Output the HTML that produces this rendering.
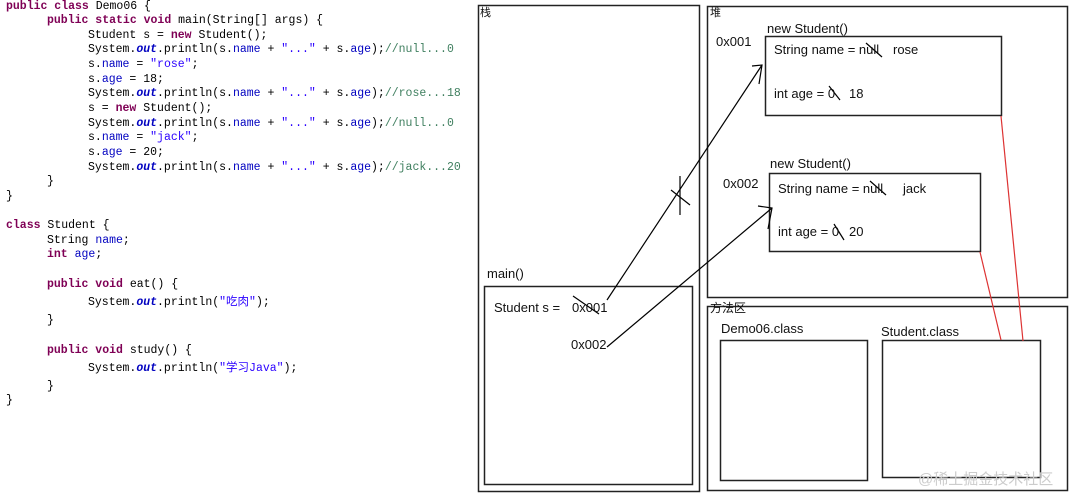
<!DOCTYPE html>
<html><head><meta charset="utf-8"><style>
body{margin:0;width:1081px;height:493px;background:#fff;overflow:hidden;position:relative;font-family:"Liberation Sans","Noto Sans CJK SC",sans-serif}
.c{position:absolute;font-family:"Liberation Mono","Noto Sans CJK SC",monospace;font-size:11.5px;white-space:pre;color:#000;line-height:14px}
.k{color:#7f0055;font-weight:bold}.f{color:#0000c0}.s{color:#2a00ff}.m{color:#3f7f5f}.o{color:#0000c0;font-weight:bold;font-style:italic}
svg{position:absolute;left:0;top:0}
</style></head><body>
<div class="c" style="left:6px;top:0px"><span class="k">public class</span> Demo06 {</div>
<div class="c" style="left:47px;top:14px"><span class="k">public static void</span> main(String[] args) {</div>
<div class="c" style="left:88px;top:29px">Student s = <span class="k">new</span> Student();</div>
<div class="c" style="left:88px;top:43px">System.<span class="o">out</span>.println(s.<span class="f">name</span> + <span class="s">"..."</span> + s.<span class="f">age</span>);<span class="m">//null...0</span></div>
<div class="c" style="left:88px;top:58px">s.<span class="f">name</span> = <span class="s">"rose"</span>;</div>
<div class="c" style="left:88px;top:73px">s.<span class="f">age</span> = 18;</div>
<div class="c" style="left:88px;top:87px">System.<span class="o">out</span>.println(s.<span class="f">name</span> + <span class="s">"..."</span> + s.<span class="f">age</span>);<span class="m">//rose...18</span></div>
<div class="c" style="left:88px;top:102px">s = <span class="k">new</span> Student();</div>
<div class="c" style="left:88px;top:117px">System.<span class="o">out</span>.println(s.<span class="f">name</span> + <span class="s">"..."</span> + s.<span class="f">age</span>);<span class="m">//null...0</span></div>
<div class="c" style="left:88px;top:131px">s.<span class="f">name</span> = <span class="s">"jack"</span>;</div>
<div class="c" style="left:88px;top:146px">s.<span class="f">age</span> = 20;</div>
<div class="c" style="left:88px;top:161px">System.<span class="o">out</span>.println(s.<span class="f">name</span> + <span class="s">"..."</span> + s.<span class="f">age</span>);<span class="m">//jack...20</span></div>
<div class="c" style="left:47px;top:175px">}</div>
<div class="c" style="left:6px;top:190px">}</div>
<div class="c" style="left:6px;top:219px"><span class="k">class</span> Student {</div>
<div class="c" style="left:47px;top:234px">String <span class="f">name</span>;</div>
<div class="c" style="left:47px;top:248px"><span class="k">int</span> <span class="f">age</span>;</div>
<div class="c" style="left:47px;top:278px"><span class="k">public void</span> eat() {</div>
<div class="c" style="left:88px;top:296px">System.<span class="o">out</span>.println(<span class="s">"吃肉"</span>);</div>
<div class="c" style="left:47px;top:314px">}</div>
<div class="c" style="left:47px;top:344px"><span class="k">public void</span> study() {</div>
<div class="c" style="left:88px;top:362px">System.<span class="o">out</span>.println(<span class="s">"学习Java"</span>);</div>
<div class="c" style="left:47px;top:380px">}</div>
<div class="c" style="left:6px;top:394px">}</div>
<svg width="1081" height="493" font-family="Liberation Sans, Noto Sans CJK SC, sans-serif" font-size="13">
<g fill="none" stroke="#222" stroke-width="1.5">
<rect x="478.5" y="5.5" width="221" height="486"/>
<rect x="707.5" y="6.5" width="360" height="291"/>
<rect x="707.5" y="306.5" width="360" height="184"/>
<rect x="484.5" y="286.5" width="208" height="198"/>
<rect x="765.5" y="36.5" width="236" height="79"/>
<rect x="769.5" y="173.5" width="211" height="78"/>
<rect x="720.5" y="340.5" width="147" height="140"/>
<rect x="882.5" y="340.5" width="158" height="137"/>
</g>
<g stroke="#000" stroke-width="1.2" fill="none">
<line x1="607" y1="300" x2="762" y2="65"/>
<line x1="607" y1="347" x2="772" y2="208"/>
<polyline points="752,66 762,65 759,84"/>
<polyline points="758,206 772,208 768,229"/>
<line x1="680" y1="176" x2="680" y2="215"/>
<line x1="671" y1="190" x2="690" y2="205"/>
<line x1="573" y1="296" x2="599" y2="314"/>
<line x1="866" y1="43" x2="882" y2="57"/>
<line x1="829" y1="86" x2="840" y2="100"/>
<line x1="870" y1="181" x2="886" y2="195"/>
<line x1="834" y1="224" x2="844" y2="240"/>
</g>
<g stroke="#d33" stroke-width="1.2">
<line x1="1001" y1="116" x2="1023" y2="341"/>
<line x1="980" y1="252" x2="1001" y2="340"/>
</g>
<g fill="#111">
<text x="480" y="16" font-size="11">栈</text>
<text x="710" y="16" font-size="11">堆</text>
<text x="710" y="312" font-size="12">方法区</text>
<text x="767" y="33">new Student()</text>
<text x="716" y="46">0x001</text>
<text x="774" y="54">String name = null</text>
<text x="893" y="54">rose</text>
<text x="774" y="98">int age = 0</text>
<text x="849" y="98">18</text>
<text x="770" y="168">new Student()</text>
<text x="723" y="188">0x002</text>
<text x="778" y="193">String name = null</text>
<text x="903" y="193">jack</text>
<text x="778" y="236">int age = 0</text>
<text x="849" y="236">20</text>
<text x="487" y="278">main()</text>
<text x="494" y="312">Student s =</text>
<text x="572" y="312">0x001</text>
<text x="571" y="349">0x002</text>
<text x="721" y="333">Demo06.class</text>
<text x="881" y="336">Student.class</text>
</g>
<text x="918" y="484" fill="#ccc" font-size="15">@稀土掘金技术社区</text>
</svg>
</body></html>
